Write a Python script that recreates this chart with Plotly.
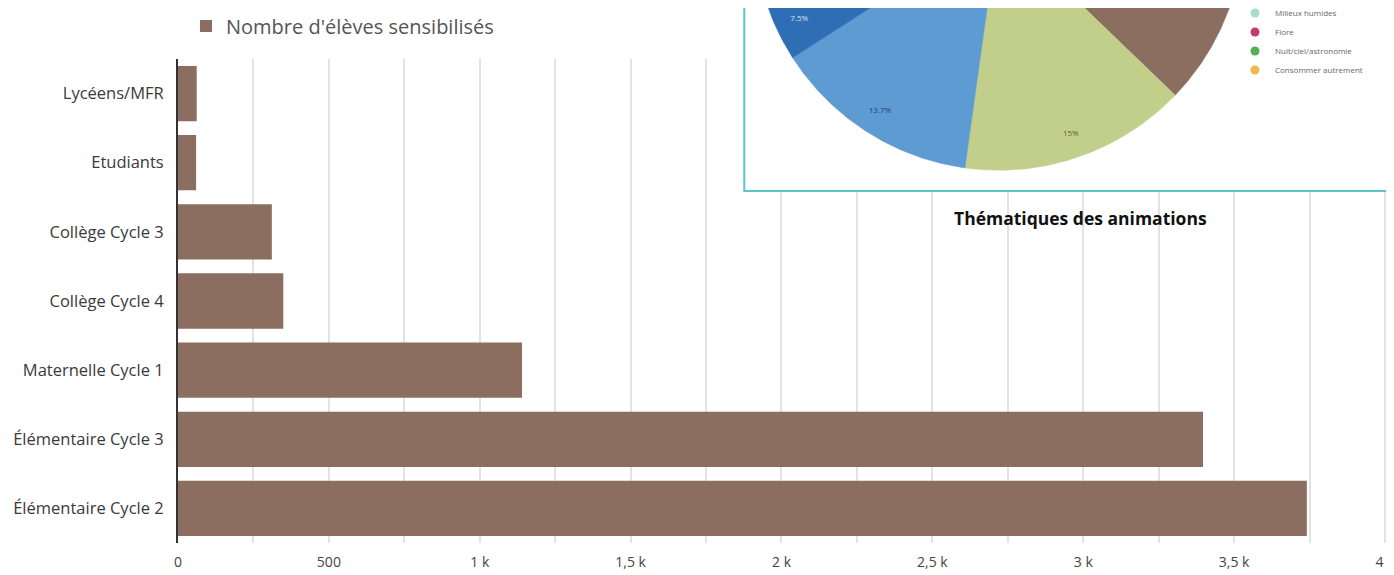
import numpy as np
import plotly.graph_objects as go

# ---------------- Bar chart data ----------------
categories = ["Lycéens/MFR", "Etudiants", "Collège Cycle 3", "Collège Cycle 4",
              "Maternelle Cycle 1", "Élémentaire Cycle 3", "Élémentaire Cycle 2"]
students = [62, 60, 311, 349, 1140, 3397, 3741]
series_name = "Nombre d'élèves sensibilisés"

x_tickvals = [0, 250, 500, 750, 1000, 1250, 1500, 1750, 2000, 2250, 2500,
              2750, 3000, 3250, 3500, 3750, 4000]
x_ticktext = ["0", "", "500", "", "1 k", "", "1,5 k", "", "2 k", "", "2,5 k",
              "", "3 k", "", "3,5 k", "", "4 k"]

# ---------------- Pie chart data (clockwise from 12 o'clock) ----------------
pie_labels = ["Thème 1", "Thème 2", "Thème 3", "Thème 4", "Thème 5", "Thème 6",
              "Milieux humides", "Flore", "Nuit/ciel/astronomie", "Consommer autrement"]
pie_values = [14.2, 13.0, 10.0, 15.0, 13.7, 7.5, 8.0, 7.0, 6.2, 5.4]
pie_colors = ["#ED7D31", "#A5A5A5", "#8B6E5F", "#C2CF8B", "#5E9BD3", "#2F6EB5",
              "#A9DDC6", "#C23E6D", "#54AE57", "#F1B84A"]
pie_show_pct = [False, False, False, True, True, True, False, False, False, False]
pie_in_legend = [False, False, False, False, False, False, True, True, True, True]
pie_label_colors = ["#333", "#333", "#333", "#5B6233", "#24406E", "#D5E2F4",
                    "#333", "#333", "#333", "#333"]
# where, along each slice (0 = start, 1 = end), its % label sits
pie_label_pos = [0.5, 0.5, 0.5, 0.5, 0.5, 0.28, 0.5, 0.5, 0.5, 0.5]
pie_title = "Thématiques des animations"

BAR_COLOR = "#8B6E60"

fig = go.Figure()

fig.add_trace(go.Bar(
    y=categories, x=students, orientation="h", name=series_name,
    marker=dict(color=BAR_COLOR, line=dict(width=0)),
    legend="legend", showlegend=True,
))

# ---------------- Pie drawn on its own (clipped) axes ----------------
vals = np.array(pie_values, dtype=float)
frac = vals / vals.sum()
cum_end = np.cumsum(frac)
cum_start = cum_end - frac
START = 90.0  # degrees, 12 o'clock, clockwise
lab_x, lab_y, lab_t, lab_c = [], [], [], []
for i, lab in enumerate(pie_labels):
    a0 = START - 360.0 * cum_start[i]
    a1 = START - 360.0 * cum_end[i]
    th = np.radians(np.linspace(a0, a1, 120))
    xs = np.concatenate([[0.0], np.cos(th), [0.0]])
    ys = np.concatenate([[0.0], np.sin(th), [0.0]])
    fig.add_trace(go.Scatter(
        x=xs, y=ys, xaxis="x2", yaxis="y2", mode="lines", fill="toself",
        fillcolor=pie_colors[i], line=dict(color=pie_colors[i], width=0.5),
        name=lab, legendgroup=lab, showlegend=False, hoverinfo="name",
    ))
    if pie_show_pct[i]:
        mid = np.radians(a0 + (a1 - a0) * pie_label_pos[i])
        lab_x.append(0.9 * np.cos(mid))
        lab_y.append(0.9 * np.sin(mid))
        lab_t.append(f"{pie_values[i]:g}%")
        lab_c.append(pie_label_colors[i])

fig.add_trace(go.Scatter(
    x=lab_x, y=lab_y, xaxis="x2", yaxis="y2", mode="text", text=lab_t,
    textfont=dict(size=8, color=lab_c, family="Open Sans"),
    showlegend=False, hoverinfo="skip",
))

# legend entries for pie slices (legend-only markers)
for i, lab in enumerate(pie_labels):
    if not pie_in_legend[i]:
        continue
    fig.add_trace(go.Scatter(
        x=[None], y=[None], xaxis="x2", yaxis="y2", mode="markers",
        marker=dict(symbol="circle", size=9, color=pie_colors[i]),
        name=lab, legendgroup=lab, legend="legend2", showlegend=True,
    ))

# page body has an 8px margin: figure is placed at (8, 8) in the window
OFF = 8
W, H = 1394 - OFF, 575 - OFF
ML, MB = 170, 32
PW, PH = W - ML, H - MB


def px_x(p):
    """window pixel x -> paper x"""
    return (p - OFF - ML) / PW


def px_y(p):
    """window pixel y -> paper y"""
    return 1 - (p - OFF) / PH


fig.update_layout(
    template="none",
    width=W, height=H,
    paper_bgcolor="white", plot_bgcolor="white",
    margin=dict(l=ML, r=0, t=0, b=MB, autoexpand=False),
    font=dict(family="Open Sans", color="#444"),
    bargap=0.2,
    xaxis=dict(
        domain=[0, px_x(1388)], range=[0, 4010],
        tickmode="array", tickvals=x_tickvals, ticktext=x_ticktext,
        showgrid=True, gridcolor="#e3e3e3", gridwidth=1.5,
        zeroline=False, showline=False, ticks="",
        tickfont=dict(size=14, color="#444"), ticklabelstandoff=9,
        ticklabeloverflow="allow",
        fixedrange=True,
    ),
    yaxis=dict(
        domain=[0, px_y(59)], type="category",
        categoryorder="array", categoryarray=categories, autorange="reversed",
        showgrid=False, zeroline=False, showline=True,
        linecolor="#333", linewidth=2, ticks="",
        tickfont=dict(size=16.5, color="#3a3a3a"), ticklabelstandoff=9,
        fixedrange=True,
    ),
    xaxis2=dict(domain=[px_x(743), 1.0], range=[-1.0437, 1.6135],
                anchor="y2", visible=False, fixedrange=True),
    yaxis2=dict(domain=[px_y(191), 1.0], range=[-1.0845, -0.3376],
                anchor="x2", visible=False, fixedrange=True),
    legend=dict(
        x=px_x(186), y=px_y(26), xanchor="left", yanchor="middle",
        font=dict(size=20, color="#555"), bgcolor="rgba(0,0,0,0)",
        itemclick=False, itemdoubleclick=False,
    ),
    legend2=dict(
        x=px_x(1235), y=px_y(84.5), xanchor="left", yanchor="bottom",
        font=dict(size=8, color="#666"), bgcolor="rgba(0,0,0,0)",
        traceorder="normal",
    ),
    showlegend=True,
    shapes=[dict(
        type="rect", xref="x2 domain", yref="y2 domain",
        x0=0.002, x1=(1390 - 743) / (1394 - 743), y0=0.0, y1=1.05,
        line=dict(color="#5CC5C6", width=2), fillcolor="rgba(0,0,0,0)",
        layer="above",
    )],
    annotations=[dict(
        text=f"<b>{pie_title}</b>", xref="paper", yref="paper",
        x=px_x(1080), y=px_y(218), xanchor="center", yanchor="middle",
        showarrow=False, font=dict(size=17.5, color="#111", family="Open Sans"),
    )],
)

fig.write_html("out.html")
